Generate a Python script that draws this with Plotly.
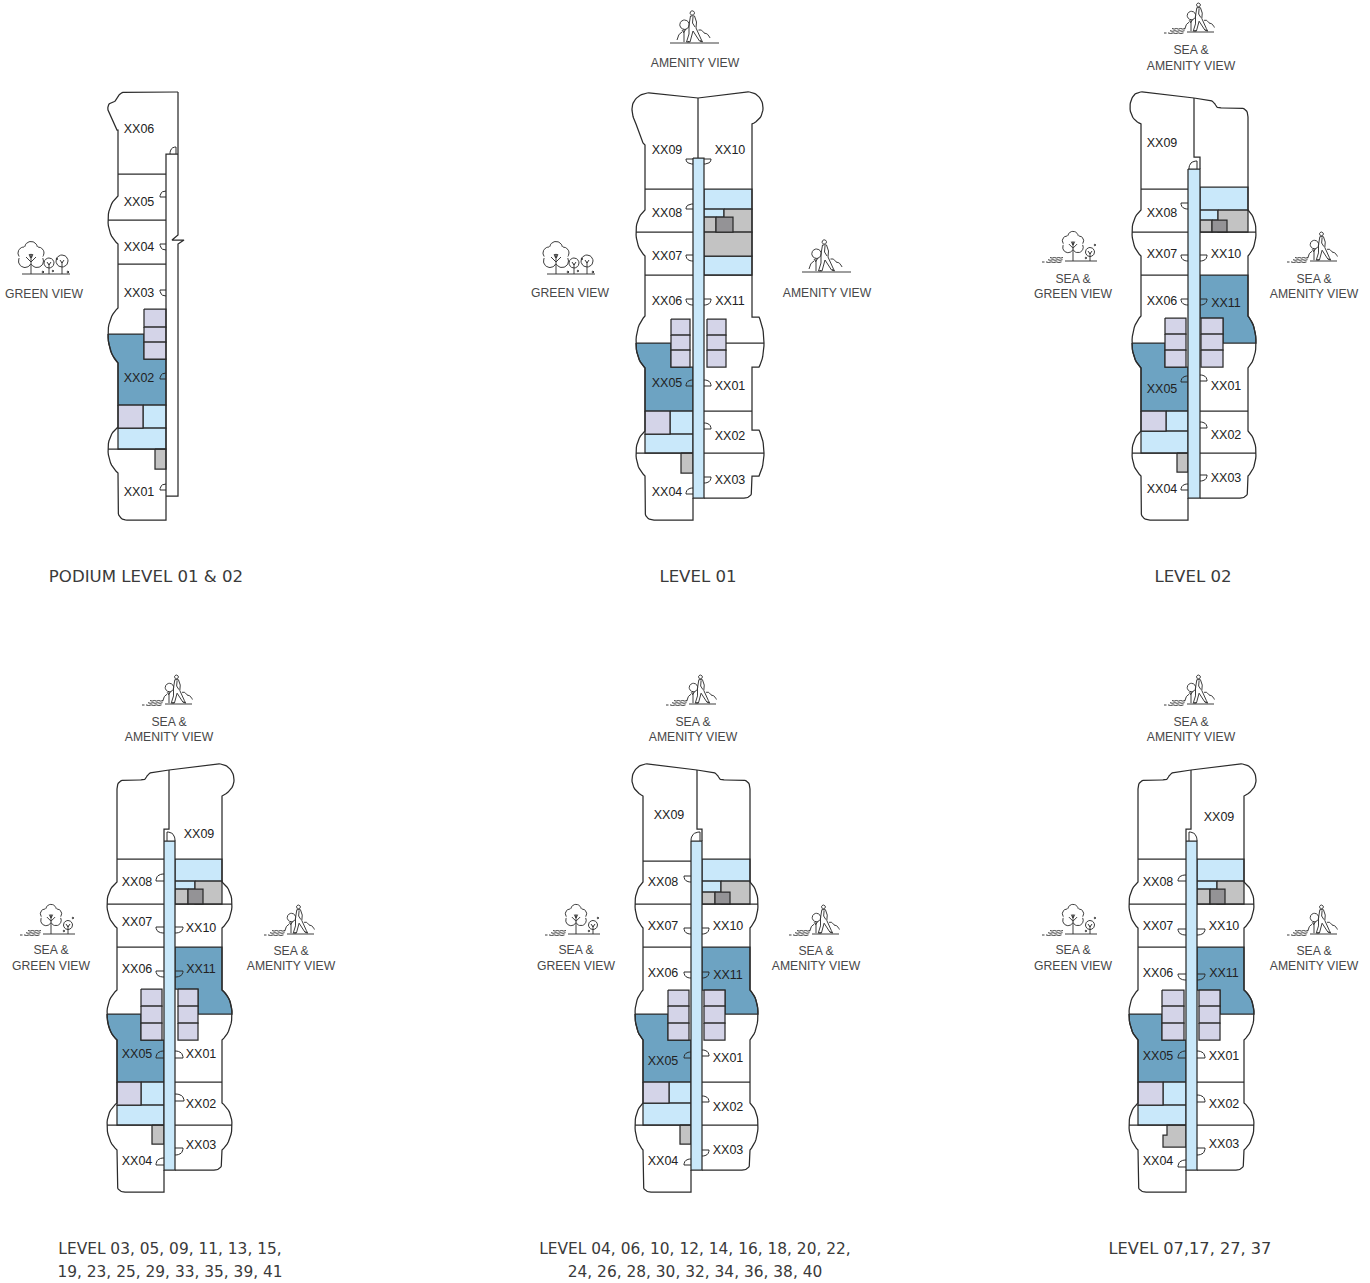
import math
import plotly.graph_objects as go

INK = "#2b2b2b"
BLUE = "#6DA3C2"
SKY = "#C9E8FA"
LAV = "#D4D4E8"
GREY = "#C3C3C3"
DARK = "#949396"

# ---------- floor plate A : podium ----------
A_walls = [[(178,92),(126,92),(120,92,118,97),(117,101,113,102),(107,103,108,110),(117,130),(118,130),
            ("bay",118,-10,196,220,244),("bay",118,-10,308,334,363),("bay",118,-10,427,449,473),
            (118,510),(118,520,127,520),(166,520),(166,154),(178,154)],
           [(178,92),(178,235),(172,240),(184,240),(178,244),(178,496),(166,496)]]
A_dividers = [(118,174,166,174),(108,220,166,220),(118,264,166,264),(108,449,166,449)]
A_lav = [(144,309,166,327),(144,327,166,342),(144,342,166,359),(118,405,143,428)]
A_sky = [(143,405,166,428),(118,428,166,449)]
A_grey = [(155,449,166,469)]
A_dark = []
A_blue = [[(108,334),(144,334),(144,359),(166,359),(166,405),(118,405),(118,363),(108,352,108,334)]]
A_spine = None
A_doors = [("v",176,154,-6,-7),("h",166,197,-6,-6),("h",166,244,-6,6),("h",166,290,-6,6),("h",166,379,-6,-6),("h",166,490,-6,-6)]
A_names = ["XX06","XX05","XX04","XX03","XX02","XX01"]
A_name_x = [139,139,139,139,139,139]
A_name_y = [130,203,248,294,379,493]

# ---------- floor plate B : level 01 ----------
B_walls = [[(698,98),(654,93),(645,92,639,96),(632,101,632,109),(632,116,636,124),(643,143),(645,145),
            ("bay",645,-9,210,232,256),("bay",645,-9,316,343,368),("bay",645,-9,431,453,476),
            (645,511),(645,520,654,520),(693,520),(693,498)],
           [(698,98),(743,92),(752,91,757,95),(763,100,763,108),(763,119,752,124),(752,317),(759,317),
            (764,328,764,343),(764,358,759,367),(752,367),(752,430),(759,430),
            (764,440,764,453),(764,466,759,476),(752,476),(752,490),(752,498,744,498),(704,498)],
           [(698,98),(698,158)]]
B_dividers = [(645,189,693,189),(636,232,693,232),(645,275,693,275),(636,453,693,453),
              (726,343,764,343),(704,411,752,411),(704,453,764,453),(704,275,752,275)]
B_lav = [(671,319,690,335),(671,335,690,350),(671,350,690,367),(707,319,726,335),(707,335,726,350),(707,350,726,367),(645,411,670,434)]
B_sky = [(704,189,752,209),(704,209,724,217),(704,256,752,275),(670,411,693,434),(645,434,693,453)]
B_grey = [(724,209,752,232),(704,217,716,232),(704,232,752,256),(681,453,693,473)]
B_dark = [(716,217,733,232)]
B_blue = [[(636,343),(671,343),(671,367),(693,367),(693,411),(645,411),(645,368),(636,359,636,343)]]
B_spine = (693,158,704,498)
B_doors = [("h",693,159,-7,5),("h",704,159,7,5),("h",693,209,-7,-5),("h",693,255,-7,6),("h",693,299,-7,6),("h",704,299,7,6),
           ("h",693,386,-7,-6),("h",704,386,7,-6),("h",704,429,7,-6),("h",704,477,7,6),("h",693,494,-7,-6)]
B_names = ["XX09","XX10","XX08","XX07","XX06","XX11","XX05","XX01","XX02","XX03","XX04"]
B_name_x = [667,730,667,667,667,730,667,730,730,730,667]
B_name_y = [151,151,214,257,302,302,384,387,437,481,493]

# ---------- floor plate C : level 02 ----------
C_walls = [[(1194,98),(1147,92),(1138,91,1134,95),(1130,100,1130,107),(1130,119,1141,124),
            ("bay",1141,-9,210,232,256),("bay",1141,-9,316,343,368),("bay",1141,-9,431,453,476),
            (1141,511),(1141,520,1150,520),(1188,520),(1188,498)],
           [(1194,98),(1209,100),(1214,101,1216,106),(1217,108,1222,108),(1240,108),(1248,108,1248,117),
            ("bay",1248,8,210,232,256),("bay",1248,8,316,343,368),("bay",1248,8,431,453,476),
            (1248,490),(1248,498,1240,498),(1200,498)],
           [(1194,98),(1194,157),(1200,157),(1200,169)]]
C_dividers = [(1141,189,1188,189),(1132,232,1188,232),(1141,275,1188,275),(1132,453,1188,453),
              (1200,232,1256,232),(1200,411,1248,411),(1200,453,1256,453)]
C_lav = [(1165,318,1186,334),(1165,334,1186,350),(1165,350,1186,367),(1201,318,1223,334),(1201,334,1223,350),(1201,350,1223,367),(1141,411,1166,431)]
C_sky = [(1200,187,1248,210),(1200,210,1218,220),(1166,411,1188,431),(1141,431,1188,453)]
C_grey = [(1218,210,1248,232),(1200,220,1212,232),(1177,453,1188,472)]
C_dark = [(1212,220,1227,232)]
C_blue = [[(1132,343),(1165,343),(1165,367),(1188,367),(1188,411),(1141,411),(1141,368),(1132,359,1132,343)],
          [(1200,275),(1248,275),(1248,316),(1256,325,1256,343),(1223,343),(1223,318),(1200,318)]]
C_spine = (1188,169,1200,498)
C_doors = [("v",1197,169,-8,-8),("h",1188,203,-7,6),("h",1188,255,-7,6),("h",1200,255,7,6),("h",1188,299,-7,6),("h",1200,299,7,6),
           ("h",1188,382,-7,-6),("h",1200,381,7,-6),("h",1200,428,7,-6),("h",1200,475,7,6),("h",1188,490,-7,-6)]
C_names = ["XX09","XX08","XX07","XX10","XX06","XX11","XX05","XX01","XX02","XX03","XX04"]
C_name_x = [1162,1162,1162,1226,1162,1226,1162,1226,1226,1226,1162]
C_name_y = [144,214,255,255,302,304,390,387,436,479,490]

# ---------- floor plate D : levels 03, 05 ... ----------
D_walls = [[(169,770),(153,772),(148,773,146,778),(145,780,140,780),(125,780),(117,780,117,789),
            ("bay",117,-10,882,904,928),("bay",117,-10,990,1014,1040),("bay",117,-10,1103,1125,1150),
            (117,1184),(117,1192,125,1192),(164,1192),(164,1170)],
           [(169,770),(214,764),(223,763,228,767),(234,772,234,780),(234,790,222,796),
            ("bay",222,10,882,904,928),("bay",222,10,990,1014,1040),("bay",222,10,1103,1125,1150),
            (222,1162),(222,1170,214,1170),(175,1170)],
           [(169,770),(169,829),(164,829),(164,841)]]
D_dividers = [(117,859,164,859),(107,904,164,904),(117,947,164,947),(107,1125,164,1125),
              (175,904,232,904),(175,1082,222,1082),(175,1125,232,1125)]
D_lav = [(141,989,162,1006),(141,1006,162,1023),(141,1023,162,1040),(178,989,198,1006),(178,1006,198,1023),(178,1023,198,1040),(117,1082,141,1105)]
D_sky = [(175,859,222,881),(175,881,195,889),(141,1082,164,1105),(117,1105,164,1125)]
D_grey = [(195,881,222,904),(175,889,188,904),(152,1125,164,1144)]
D_dark = [(188,889,203,904)]
D_blue = [[(107,1014),(141,1014),(141,1040),(164,1040),(164,1082),(117,1082),(117,1040),(107,1031,107,1014)],
          [(175,947),(222,947),(222,990),(232,998,232,1014),(198,1014),(198,989),(175,989)]]
D_spine = (164,841,175,1170)
D_doors = [("v",167,841,8,-9),("h",164,881,-8,-7),("h",164,927,-8,6),("h",175,927,8,6),("h",164,971,-8,6),("h",175,971,8,6),
           ("h",164,1058,-8,-7),("h",175,1058,8,-7),("h",175,1101,9,-7),("h",175,1148,8,7),("h",164,1165,-8,-7)]
D_names = ["XX09","XX08","XX07","XX10","XX06","XX11","XX05","XX01","XX02","XX03","XX04"]
D_name_x = [199,137,137,201,137,201,137,201,201,201,137]
D_name_y = [835,883,923,929,970,970,1055,1055,1105,1146,1162]

# ---------- floor plate E : levels 04, 06 ... ----------
E_walls = [[(697,770),(652,764),(643,763,638,767),(632,772,632,780),(632,790,643,796),
            ("bay",643,-8,882,904,928),("bay",643,-8,990,1014,1040),("bay",643,-8,1103,1125,1150),
            (643,1184),(643,1192,651,1192),(691,1192),(691,1170)],
           [(697,770),(712,772),(717,773,719,778),(720,780,725,780),(742,780),(750,780,750,789),
            ("bay",750,8,882,904,928),("bay",750,8,990,1014,1040),("bay",750,8,1103,1125,1150),
            (750,1162),(750,1170,742,1170),(702,1170)],
           [(697,770),(697,829),(702,829),(702,841)]]
E_dividers = [(643,861,691,861),(635,904,691,904),(643,947,691,947),(635,1125,691,1125),
              (702,904,758,904),(702,1082,750,1082),(702,1125,758,1125)]
E_lav = [(668,990,689,1006),(668,1006,689,1023),(668,1023,689,1040),(704,990,725,1006),(704,1006,725,1023),(704,1023,725,1040),(643,1082,669,1103)]
E_sky = [(702,859,750,881),(702,881,721,892),(669,1082,691,1103),(643,1103,691,1125)]
E_grey = [(721,881,750,904),(702,892,715,904),(680,1125,691,1144)]
E_dark = [(715,892,730,904)]
E_blue = [[(635,1014),(668,1014),(668,1040),(691,1040),(691,1082),(643,1082),(643,1040),(635,1031,635,1014)],
          [(702,947),(750,947),(750,990),(758,998,758,1014),(725,1014),(725,990),(702,990)]]
E_spine = (691,841,702,1170)
E_doors = [("v",700,841,-9,-9),("h",691,876,-7,6),("h",691,928,-7,6),("h",702,928,7,6),("h",691,972,-7,6),("h",702,972,7,6),
           ("h",691,1058,-7,-6),("h",702,1056,7,-6),("h",702,1102,7,-6),("h",702,1150,7,6),("h",691,1165,-7,-6)]
E_names = ["XX09","XX08","XX07","XX10","XX06","XX11","XX05","XX01","XX02","XX03","XX04"]
E_name_x = [669,663,663,728,663,728,663,728,728,728,663]
E_name_y = [816,883,927,927,974,976,1062,1059,1108,1151,1162]

# ---------- floor plate F : levels 07, 17 ... ----------
F_walls = [[(1191,770),(1175,772),(1170,773,1168,778),(1167,780,1162,780),(1146,780),(1138,780,1138,789),
            ("bay",1138,-9,882,904,928),("bay",1138,-9,990,1014,1040),("bay",1138,-9,1103,1125,1150),
            (1138,1184),(1138,1192,1146,1192),(1186,1192),(1186,1170)],
           [(1191,770),(1236,764),(1245,763,1250,767),(1256,772,1256,780),(1256,790,1244,796),
            ("bay",1244,10,882,904,928),("bay",1244,10,990,1014,1040),("bay",1244,10,1103,1125,1150),
            (1244,1162),(1244,1170,1236,1170),(1197,1170)],
           [(1191,770),(1191,829),(1186,829),(1186,841)]]
F_dividers = [(1138,859,1186,859),(1129,904,1186,904),(1138,947,1186,947),(1129,1125,1186,1125),
              (1197,904,1254,904),(1197,1082,1244,1082),(1197,1125,1254,1125)]
F_lav = [(1162,990,1184,1006),(1162,1006,1184,1023),(1162,1023,1184,1040),(1199,990,1220,1006),(1199,1006,1220,1023),(1199,1023,1220,1040),(1138,1082,1163,1105)]
F_sky = [(1197,859,1244,881),(1197,881,1217,889),(1163,1082,1186,1105),(1138,1105,1186,1125)]
F_grey = [(1217,881,1244,904),(1197,889,1210,904)]
F_dark = [(1210,889,1225,904)]
F_blue = [[(1129,1014),(1162,1014),(1162,1040),(1186,1040),(1186,1082),(1138,1082),(1138,1040),(1129,1031,1129,1014)],
          [(1197,947),(1244,947),(1244,990),(1254,998,1254,1014),(1220,1014),(1220,990),(1197,990)]]
F_stepped_grey = [[(1186,1125),(1167,1125),(1167,1135),(1163,1135),(1163,1147),(1186,1147)]]
F_spine = (1186,841,1197,1170)
F_doors = [("v",1189,841,8,-9),("h",1186,881,-8,-6),("h",1186,929,-8,6),("h",1197,929,8,6),("h",1186,974,-8,6),("h",1197,974,8,6),
           ("h",1186,1058,-8,-7),("h",1197,1058,8,-7),("h",1197,1102,8,-7),("h",1197,1148,8,7),("h",1186,1167,-8,-7)]
F_names = ["XX09","XX08","XX07","XX10","XX06","XX11","XX05","XX01","XX02","XX03","XX04"]
F_name_x = [1219,1158,1158,1224,1158,1224,1158,1224,1224,1224,1158]
F_name_y = [818,883,927,927,974,974,1057,1057,1105,1145,1162]

# ---------- captions and view labels ----------
caption_text = ["PODIUM LEVEL 01 & 02","LEVEL 01","LEVEL 02","LEVEL 03, 05, 09, 11, 13, 15,","19, 23, 25, 29, 33, 35, 39, 41",
                "LEVEL 04, 06, 10, 12, 14, 16, 18, 20, 22,","24, 26, 28, 30, 32, 34, 36, 38, 40","LEVEL 07,17, 27, 37"]
caption_x = [146,698,1193,170,170,695,695,1190]
caption_y = [578,578,578,1250,1273,1250,1273,1250]
caption_size = [16.6,16.6,16.6,15.4,15.4,15.4,15.4,16.2]
view_text = ["GREEN VIEW","AMENITY VIEW","GREEN VIEW","AMENITY VIEW",
             "SEA &","AMENITY VIEW","SEA &","GREEN VIEW","SEA &","AMENITY VIEW",
             "SEA &","AMENITY VIEW","SEA &","GREEN VIEW","SEA &","AMENITY VIEW",
             "SEA &","AMENITY VIEW","SEA &","GREEN VIEW","SEA &","AMENITY VIEW",
             "SEA &","AMENITY VIEW","SEA &","GREEN VIEW","SEA &","AMENITY VIEW"]
view_x = [44,695,570,827, 1191,1191,1073,1073,1314,1314, 169,169,51,51,291,291,
          693,693,576,576,816,816, 1191,1191,1073,1073,1314,1314]
view_y = [295,64,294,294, 51,67,280,295,280,295, 723,738,951,967,952,967,
          723,738,951,967,952,967, 723,738,951,967,952,967]
tree_icons = [(45,274),(570,274)]
walker_icons = [(695,43),(827,272)]
sea_tree_icons = [(1073,261),(51,934),(576,934),(1073,934)]
sea_walker_icons = [(1191,32),(1314,261),(169,704),(291,934),(693,704),(816,934),(1191,704),(1314,934)]

# ---------- helpers ----------
def quad(p0, c, p1, n=10):
    return [((1-t)**2*p0[0]+2*t*(1-t)*c[0]+t*t*p1[0], (1-t)**2*p0[1]+2*t*(1-t)*c[1]+t*t*p1[1])
            for t in [i/n for i in range(1, n+1)]]

def expand(path):
    pts = []
    for item in path:
        if item[0] == "bay":
            _, x, dx, y0, ym, y1 = item
            pts.append((x, y0))
            pts += quad((x, y0), (x+dx, y0+0.35*(ym-y0)), (x+dx, ym))
            pts += quad((x+dx, ym), (x+dx, ym+0.65*(y1-ym)), (x, y1))
        elif len(item) == 4:
            pts += quad(pts[-1], item[:2], item[2:])
        else:
            pts.append(item)
    return pts

fig = go.Figure()

def draw(pts, fill=None, width=1.25, color=INK):
    xs = [p[0] for p in pts]
    ys = [p[1] for p in pts]
    kw = {}
    if fill:
        xs.append(xs[0]); ys.append(ys[0])
        kw = dict(fill="toself", fillcolor=fill)
    fig.add_trace(go.Scatter(x=xs, y=ys, mode="lines", line=dict(color=color, width=width),
                             hoverinfo="skip", showlegend=False, **kw))

def rect(r):
    return [(r[0],r[1]),(r[2],r[1]),(r[2],r[3]),(r[0],r[3])]

def door_pts(d):
    kind, x, y, dx, dy = d
    if kind == "h":
        leaf, end = (x+dx, y), (x, y+dy)
    else:
        leaf, end = (x, y+dy), (x+dx, y)
    return [(x, y), leaf] + quad(leaf, (x+dx, y+dy), end, 8)

def plan(walls, dividers, lav, sky, grey, dark, blue, spine, doors, names, nx, ny, extra_grey=()):
    for p in blue:
        draw(expand(p), BLUE)
    for r in sky:
        draw(rect(r), SKY)
    for r in lav:
        draw(rect(r), LAV)
    for r in grey:
        draw(rect(r), GREY)
    for p in extra_grey:
        draw(p, GREY)
    for r in dark:
        draw(rect(r), DARK)
    if spine:
        draw(rect(spine), SKY)
    for d in dividers:
        draw([(d[0], d[1]), (d[2], d[3])])
    for w in walls:
        draw(expand(w))
    for d in doors:
        draw(door_pts(d), width=1)
    fig.add_trace(go.Scatter(x=nx, y=ny, text=names, mode="text", textposition="middle center",
                             textfont=dict(family="Liberation Sans", size=12.5, color="#222222"),
                             hoverinfo="skip", showlegend=False))

plan(A_walls,A_dividers,A_lav,A_sky,A_grey,A_dark,A_blue,A_spine,A_doors,A_names,A_name_x,A_name_y)
plan(B_walls,B_dividers,B_lav,B_sky,B_grey,B_dark,B_blue,B_spine,B_doors,B_names,B_name_x,B_name_y)
plan(C_walls,C_dividers,C_lav,C_sky,C_grey,C_dark,C_blue,C_spine,C_doors,C_names,C_name_x,C_name_y)
plan(D_walls,D_dividers,D_lav,D_sky,D_grey,D_dark,D_blue,D_spine,D_doors,D_names,D_name_x,D_name_y)
plan(E_walls,E_dividers,E_lav,E_sky,E_grey,E_dark,E_blue,E_spine,E_doors,E_names,E_name_x,E_name_y)
plan(F_walls,F_dividers,F_lav,F_sky,F_grey,F_dark,F_blue,F_spine,F_doors,F_names,F_name_x,F_name_y,F_stepped_grey)

# ---------- icons ----------
def circle(cx, cy, r, n=24):
    return [(cx+r*math.cos(2*math.pi*i/n), cy+r*math.sin(2*math.pi*i/n)) for i in range(n+1)]

def cloud(circles, n=40):
    segs = []
    for i, (cx, cy, r) in enumerate(circles):
        cur = []
        for k in range(n+1):
            a = 2*math.pi*k/n
            p = (cx+r*math.cos(a), cy+r*math.sin(a))
            inside = any(j != i and math.hypot(p[0]-c[0], p[1]-c[1]) < c[2] for j, c in enumerate(circles))
            if inside:
                if len(cur) > 1:
                    segs.append(cur)
                cur = []
            else:
                cur.append(p)
        if len(cur) > 1:
            segs.append(cur)
    return segs

def tree_big(ox, s, lift=0):
    crown = [(0,-26,6.5),(-7,-21,6),(7,-21,6),(-6,-13,6.5),(6,-13,6.5)]
    segs = cloud([(ox+c[0]*s, c[1]*s-lift, c[2]*s) for c in crown])
    segs.append([(ox, 0), (ox, -19*s-lift)])
    for line in [[(0,-12),(-5,-17)],[(0,-12),(5,-17)],[(0,-17),(-2,-20)],[(0,-17),(2,-20)]]:
        segs.append([(ox+p[0]*s, p[1]*s-lift) for p in line])
    return segs

def tree_small(ox, top, r):
    return [circle(ox, top, r), [(ox, top+r*0.1), (ox, 0)], [(ox-2, top-1), (ox, top+2), (ox+2, top-1)]]

def walker(ox, s):
    lines = [[(-3.5,-27),(0.5,-27),(2.5,-21),(2,-15),(7,-4),(8.5,-1),(5.5,-2),(-1,-12),(-4,-1),(-7.5,-1),(-5,-9),(-5,-18),(-3.5,-27)],
             [(-1,-26),(-1.5,-20),(1,-16)],
             [(-6.5,-1.5),(-4.5,-1.5)],[(6,-2.5),(8,-1.5)],
             [(-10,-14),(-10,-1)],[(-10,-10),(-12,-13)],[(-10,-11),(-8,-14)]]
    segs = [[(ox+p[0]*s, p[1]*s) for p in l] for l in lines]
    segs.append(circle(ox-1.7*s, -30*s, 2.2*s))
    segs.append(circle(ox-9.5*s, -18.3*s, 4.7*s))
    bush = [(4.5,-13)] + quad((4.5,-13),(8,-14),(10,-10)) + quad((10,-10),(14,-10),(16,-5))
    segs.append([(ox+p[0]*s, p[1]*s) for p in bush])
    left = [(-17,-3)] + quad((-17,-3),(-16,-9),(-12,-11))
    segs.append([(ox+p[0]*s, p[1]*s) for p in left])
    return segs

def sea(x0, x1):
    segs = [[(x0, 1), (x0+2.5, 1)]]
    for y, a, b in [(-3.2, x0+8, x1), (-1, x0+6, x1-0.5), (1.2, x0+4, x1-1.5)]:
        step = (b-a)/6
        segs.append([(a+i*step, y+(0.3 if i % 2 else -0.3)) for i in range(7)])
    return segs

def place(segs, cx, cy, width=0.95):
    xs, ys = [], []
    for seg in segs:
        xs += [p[0]+cx for p in seg] + [None]
        ys += [p[1]+cy for p in seg] + [None]
    fig.add_trace(go.Scatter(x=xs, y=ys, mode="lines", line=dict(color="#333333", width=width),
                             hoverinfo="skip", showlegend=False))

dots = [circle(8,-3,0.9,8), circle(12,-15,0.9,8), circle(23,-2,1,8), circle(-2,-2,1,8)]
for cx, cy in tree_icons:
    place(tree_big(-14,1) + tree_small(4,-11,5) + tree_small(17,-13,6) + dots + [[(-23,0),(25,0)]], cx, cy)
for cx, cy in walker_icons:
    place(walker(-1,1) + [[(-25,0),(24,0)]], cx, cy)
for cx, cy in sea_tree_icons:
    place(tree_big(0,0.82,3) + tree_small(17,-9,4.5) + [circle(22,-16,0.9,8), circle(13,-3,0.9,8)]
          + [[(-8,0),(24,0)]] + sea(-31,-10), cx, cy)
for cx, cy in sea_walker_icons:
    place(walker(9,0.9) + [[(-4,0),(23,0)]] + sea(-27,-6), cx, cy)

fig.add_trace(go.Scatter(x=view_x, y=view_y, text=view_text, mode="text", textposition="middle center",
                         textfont=dict(family="Liberation Sans", size=12.2, color="#484848"),
                         hoverinfo="skip", showlegend=False))
fig.add_trace(go.Scatter(x=caption_x, y=caption_y, text=caption_text, mode="text", textposition="middle center",
                         textfont=dict(family="DejaVu Sans", size=caption_size, color="#3a3a3a"),
                         hoverinfo="skip", showlegend=False))

fig.update_layout(width=1370, height=1283, margin=dict(l=0, r=0, t=0, b=0),
                  paper_bgcolor="white", plot_bgcolor="white", showlegend=False,
                  xaxis=dict(range=[0, 1370], visible=False, fixedrange=True),
                  yaxis=dict(range=[1283, 0], visible=False, fixedrange=True))
fig.write_html("out.html", config=dict(displayModeBar=False),
               post_script="document.body.style.margin='0';")
